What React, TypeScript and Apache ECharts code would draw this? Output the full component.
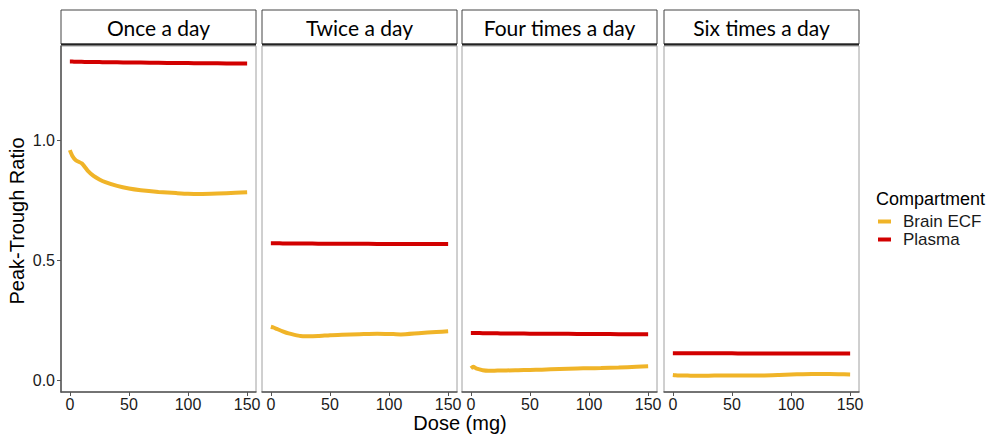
import React, { useEffect, useRef } from "react";
import * as echarts from "echarts";

const panels = ["Once a day", "Twice a day", "Four times a day", "Six times a day"];
const compartments = ["Brain ECF", "Plasma"];
const doses = [0, 2, 5, 10, 15, 20, 25, 30, 40, 50, 60, 75, 90, 100, 110, 125, 140, 150];

const brainOnce = [0.958, 0.935, 0.916, 0.903, 0.873, 0.851, 0.836, 0.825, 0.809, 0.798, 0.791, 0.784, 0.779, 0.776, 0.775, 0.777, 0.780, 0.782];
const plasmaOnce = [1.327, 1.327, 1.326, 1.326, 1.325, 1.325, 1.325, 1.324, 1.324, 1.323, 1.323, 1.322, 1.321, 1.321, 1.320, 1.320, 1.319, 1.319];
const brainTwice = [0.222, 0.219, 0.213, 0.203, 0.194, 0.188, 0.183, 0.182, 0.183, 0.187, 0.189, 0.191, 0.193, 0.192, 0.190, 0.195, 0.200, 0.203];
const plasmaTwice = [0.570, 0.570, 0.570, 0.569, 0.569, 0.569, 0.569, 0.569, 0.568, 0.568, 0.568, 0.568, 0.567, 0.567, 0.567, 0.567, 0.567, 0.567];
const brainFour = [0.049, 0.055, 0.047, 0.041, 0.039, 0.039, 0.040, 0.040, 0.041, 0.042, 0.043, 0.046, 0.048, 0.049, 0.050, 0.052, 0.055, 0.057];
const plasmaFour = [0.196, 0.196, 0.196, 0.195, 0.195, 0.195, 0.194, 0.194, 0.194, 0.193, 0.193, 0.193, 0.192, 0.192, 0.192, 0.191, 0.191, 0.191];
const brainSix = [0.021, 0.020, 0.019, 0.019, 0.018, 0.018, 0.018, 0.018, 0.019, 0.019, 0.019, 0.019, 0.021, 0.023, 0.024, 0.025, 0.024, 0.023];
const plasmaSix = [0.111, 0.111, 0.111, 0.111, 0.111, 0.111, 0.111, 0.111, 0.111, 0.111, 0.110, 0.110, 0.110, 0.110, 0.110, 0.110, 0.110, 0.110];

const brainByPanel = [brainOnce, brainTwice, brainFour, brainSix];
const plasmaByPanel = [plasmaOnce, plasmaTwice, plasmaFour, plasmaSix];

const xTicks = [0, 50, 100, 150];
const yTicks = [0, 0.5, 1.0];

const COLORS = ["#F0B428", "#D20000"];
const PANEL_LEFT = [61, 262, 462, 664];
const PANEL_W = 195;
const PANEL_TOP = 46;
const PANEL_H = 346;
const SANS = "Liberation Sans";

export default function App() {
  const ref = useRef<HTMLDivElement>(null);
  useEffect(() => {
    document.body.style.margin = "0";
    const chart = echarts.init(ref.current!, null, { renderer: "svg" });
    const grids = PANEL_LEFT.map((left) => ({
      left,
      top: PANEL_TOP,
      width: PANEL_W,
      height: PANEL_H,
      show: true,
      borderColor: "#a0a0a0",
      borderWidth: 1,
      backgroundColor: "transparent",
      outerBoundsMode: "none",
    }));
    const xAxes = PANEL_LEFT.map((_, i) => ({
      type: "value",
      gridIndex: i,
      min: -7.5,
      max: 157.5,
      axisLine: { show: true, onZero: false, lineStyle: { color: "#555", width: 1.5 } },
      axisTick: { show: true, length: 4, customValues: xTicks, lineStyle: { color: "#555" } },
      axisLabel: { customValues: xTicks, fontSize: 16, margin: 4, color: "#1a1a1a", fontFamily: SANS },
      splitLine: { show: false },
    }));
    const yAxes = PANEL_LEFT.map((_, i) => ({
      type: "value",
      gridIndex: i,
      min: -0.05,
      max: 1.392,
      axisLine: { show: i === 0, onZero: false, lineStyle: { color: "#555", width: 1.5 } },
      axisTick: { show: i === 0, length: 4, customValues: yTicks, lineStyle: { color: "#555" } },
      axisLabel: {
        show: i === 0,
        customValues: yTicks,
        formatter: (v: number) => v.toFixed(1),
        fontSize: 16,
        margin: 6,
        color: "#1a1a1a",
        fontFamily: SANS,
      },
      splitLine: { show: false },
    }));
    const series: any[] = [];
    PANEL_LEFT.forEach((_, i) => {
      [brainByPanel[i], plasmaByPanel[i]].forEach((vals, k) => {
        series.push({
          type: "line",
          name: compartments[k],
          xAxisIndex: i,
          yAxisIndex: i,
          data: doses.map((d, j) => [d, vals[j]]),
          symbol: "none",
          smooth: 0.2,
          color: COLORS[k],
          lineStyle: { width: 4, color: COLORS[k] },
        });
      });
    });
    const graphics: any[] = [];
    PANEL_LEFT.forEach((left, i) => {
      graphics.push({
        type: "rect",
        shape: { x: left, y: 10, width: PANEL_W, height: 34 },
        style: { fill: "#fff", stroke: "#444", lineWidth: 1 },
      });
      graphics.push({
        type: "line",
        shape: { x1: left, y1: 44.5, x2: left + PANEL_W, y2: 44.5 },
        style: { stroke: "#222", lineWidth: 2 },
      });
      graphics.push({
        type: "text",
        x: left + PANEL_W / 2,
        y: 27,
        style: {
          text: panels[i],
          fontSize: 21,
          fontFamily: "Lato",
          fill: "#000",
          align: "center",
          verticalAlign: "middle",
        },
      });
    });
    graphics.push({
      type: "text",
      x: 17,
      y: 221,
      rotation: Math.PI / 2,
      style: { text: "Peak-Trough Ratio", fontSize: 20, fontFamily: SANS, fill: "#000", align: "center", verticalAlign: "middle" },
    });
    graphics.push({
      type: "text",
      x: 460,
      y: 423,
      style: { text: "Dose (mg)", fontSize: 20, fontFamily: SANS, fill: "#000", align: "center", verticalAlign: "middle" },
    });
    graphics.push({
      type: "text",
      x: 876,
      y: 199,
      style: { text: "Compartment", fontSize: 18, fontFamily: SANS, fill: "#000", align: "left", verticalAlign: "middle" },
    });
    chart.setOption({
      animation: false,
      backgroundColor: "#fff",
      grid: grids,
      xAxis: xAxes,
      yAxis: yAxes,
      series,
      legend: {
        data: compartments,
        orient: "vertical",
        left: 878,
        top: 213,
        padding: 0,
        icon: "rect",
        itemWidth: 13,
        itemHeight: 4,
        itemGap: 1,
        textStyle: { fontSize: 17, fontFamily: SANS, color: "#1a1a1a", padding: [0, 0, 0, 7], lineHeight: 17 },
      },
      graphic: graphics,
    });
    return () => chart.dispose();
  }, []);
  return <div ref={ref} style={{ position: "fixed", left: 0, top: 0, width: 993, height: 438 }} />;
}
